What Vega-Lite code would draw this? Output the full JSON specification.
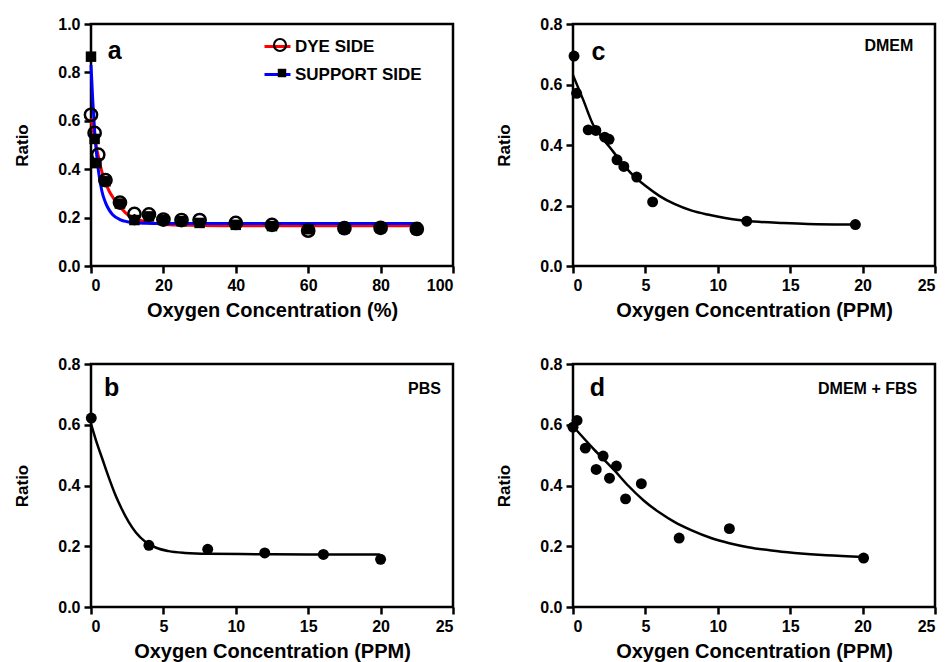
{
  "$schema": "https://vega.github.io/schema/vega-lite/v6.json",
  "autosize": {"type": "pad"},
  "padding": {"left": 12, "top": 14, "right": 0, "bottom": 0},
  "background": "white",
  "bounds": "flush",
  "columns": 2,
  "spacing": {"row": 98, "column": 120},
  "datasets": {
    "aDye": [
      {"x": 0, "y": 0.625, "side": "DYE SIDE"},
      {"x": 1, "y": 0.55, "side": "DYE SIDE"},
      {"x": 2, "y": 0.46, "side": "DYE SIDE"},
      {"x": 4, "y": 0.355, "side": "DYE SIDE"},
      {"x": 8, "y": 0.262, "side": "DYE SIDE"},
      {"x": 12, "y": 0.215, "side": "DYE SIDE"},
      {"x": 16, "y": 0.213, "side": "DYE SIDE"},
      {"x": 20, "y": 0.192, "side": "DYE SIDE"},
      {"x": 25, "y": 0.19, "side": "DYE SIDE"},
      {"x": 30, "y": 0.19, "side": "DYE SIDE"},
      {"x": 40, "y": 0.178, "side": "DYE SIDE"},
      {"x": 50, "y": 0.17, "side": "DYE SIDE"},
      {"x": 60, "y": 0.146, "side": "DYE SIDE"},
      {"x": 70, "y": 0.156, "side": "DYE SIDE"},
      {"x": 80, "y": 0.158, "side": "DYE SIDE"},
      {"x": 90, "y": 0.153, "side": "DYE SIDE"}
    ],
    "aSup": [
      {"x": 0, "y": 0.865, "side": "SUPPORT SIDE"},
      {"x": 1, "y": 0.525, "side": "SUPPORT SIDE"},
      {"x": 1.5, "y": 0.425, "side": "SUPPORT SIDE"},
      {"x": 4, "y": 0.35, "side": "SUPPORT SIDE"},
      {"x": 8, "y": 0.258, "side": "SUPPORT SIDE"},
      {"x": 12, "y": 0.19, "side": "SUPPORT SIDE"},
      {"x": 16, "y": 0.205, "side": "SUPPORT SIDE"},
      {"x": 20, "y": 0.19, "side": "SUPPORT SIDE"},
      {"x": 25, "y": 0.185, "side": "SUPPORT SIDE"},
      {"x": 30, "y": 0.178, "side": "SUPPORT SIDE"},
      {"x": 40, "y": 0.17, "side": "SUPPORT SIDE"},
      {"x": 50, "y": 0.165, "side": "SUPPORT SIDE"},
      {"x": 60, "y": 0.152, "side": "SUPPORT SIDE"},
      {"x": 70, "y": 0.155, "side": "SUPPORT SIDE"},
      {"x": 80, "y": 0.157, "side": "SUPPORT SIDE"},
      {"x": 90, "y": 0.152, "side": "SUPPORT SIDE"}
    ],
    "aFit": [
      {"x": 0, "y": 0.61, "side": "DYE SIDE"},
      {"x": 0.5, "y": 0.57, "side": "DYE SIDE"},
      {"x": 1, "y": 0.53, "side": "DYE SIDE"},
      {"x": 1.5, "y": 0.49, "side": "DYE SIDE"},
      {"x": 2, "y": 0.455, "side": "DYE SIDE"},
      {"x": 3, "y": 0.39, "side": "DYE SIDE"},
      {"x": 4, "y": 0.345, "side": "DYE SIDE"},
      {"x": 5, "y": 0.31, "side": "DYE SIDE"},
      {"x": 6, "y": 0.285, "side": "DYE SIDE"},
      {"x": 7, "y": 0.262, "side": "DYE SIDE"},
      {"x": 8, "y": 0.245, "side": "DYE SIDE"},
      {"x": 10, "y": 0.214, "side": "DYE SIDE"},
      {"x": 12, "y": 0.198, "side": "DYE SIDE"},
      {"x": 15, "y": 0.183, "side": "DYE SIDE"},
      {"x": 20, "y": 0.173, "side": "DYE SIDE"},
      {"x": 25, "y": 0.169, "side": "DYE SIDE"},
      {"x": 30, "y": 0.167, "side": "DYE SIDE"},
      {"x": 40, "y": 0.166, "side": "DYE SIDE"},
      {"x": 60, "y": 0.166, "side": "DYE SIDE"},
      {"x": 91, "y": 0.166, "side": "DYE SIDE"},
      {"x": 0, "y": 0.83, "side": "SUPPORT SIDE"},
      {"x": 0.5, "y": 0.68, "side": "SUPPORT SIDE"},
      {"x": 1, "y": 0.56, "side": "SUPPORT SIDE"},
      {"x": 1.5, "y": 0.47, "side": "SUPPORT SIDE"},
      {"x": 2, "y": 0.4, "side": "SUPPORT SIDE"},
      {"x": 3, "y": 0.31, "side": "SUPPORT SIDE"},
      {"x": 4, "y": 0.262, "side": "SUPPORT SIDE"},
      {"x": 5, "y": 0.232, "side": "SUPPORT SIDE"},
      {"x": 6, "y": 0.212, "side": "SUPPORT SIDE"},
      {"x": 8, "y": 0.192, "side": "SUPPORT SIDE"},
      {"x": 10, "y": 0.183, "side": "SUPPORT SIDE"},
      {"x": 12, "y": 0.179, "side": "SUPPORT SIDE"},
      {"x": 15, "y": 0.177, "side": "SUPPORT SIDE"},
      {"x": 20, "y": 0.176, "side": "SUPPORT SIDE"},
      {"x": 50, "y": 0.176, "side": "SUPPORT SIDE"},
      {"x": 91, "y": 0.176, "side": "SUPPORT SIDE"}
    ],
    "aErr": [{"x": 12, "lo": 0.168, "hi": 0.215}],
    "aTxt": [{"x": 4.6, "y": 0.856, "t": "a"}],
    "cPts": [
      {"x": 0.07, "y": 0.694}, {"x": 0.25, "y": 0.571}, {"x": 1.05, "y": 0.45},
      {"x": 1.58, "y": 0.448}, {"x": 2.19, "y": 0.426}, {"x": 2.49, "y": 0.419},
      {"x": 3.04, "y": 0.351}, {"x": 3.51, "y": 0.329}, {"x": 4.4, "y": 0.294},
      {"x": 5.5, "y": 0.212}, {"x": 12.0, "y": 0.148}, {"x": 19.5, "y": 0.137}
    ],
    "cFit": [
      {"x": 0, "y": 0.631}, {"x": 0.7, "y": 0.55}, {"x": 1.4, "y": 0.466},
      {"x": 2, "y": 0.425}, {"x": 2.76, "y": 0.379}, {"x": 3.4, "y": 0.34},
      {"x": 4.1, "y": 0.302}, {"x": 5, "y": 0.265}, {"x": 5.96, "y": 0.232},
      {"x": 7, "y": 0.205}, {"x": 8.2, "y": 0.183}, {"x": 9.3, "y": 0.17},
      {"x": 10.5, "y": 0.159}, {"x": 12.8, "y": 0.146}, {"x": 14.5, "y": 0.142},
      {"x": 16.2, "y": 0.139}, {"x": 19.6, "y": 0.137}
    ],
    "cTxt": [
      {"x": 1.28, "y": 0.682, "t": "c", "k": "letter"},
      {"x": 23.5, "y": 0.71, "t": "DMEM", "k": "label"}
    ],
    "bPts": [
      {"x": 0.02, "y": 0.622}, {"x": 4.0, "y": 0.203}, {"x": 8.06, "y": 0.19},
      {"x": 12.0, "y": 0.178}, {"x": 16.05, "y": 0.173}, {"x": 20.0, "y": 0.157}
    ],
    "bFit": [
      {"x": 0, "y": 0.603}, {"x": 0.4, "y": 0.54}, {"x": 0.78, "y": 0.488},
      {"x": 1.2, "y": 0.43}, {"x": 1.7, "y": 0.367}, {"x": 2.1, "y": 0.325},
      {"x": 2.6, "y": 0.28}, {"x": 3.1, "y": 0.245}, {"x": 3.77, "y": 0.214},
      {"x": 4.5, "y": 0.195}, {"x": 5.37, "y": 0.184}, {"x": 6.5, "y": 0.178},
      {"x": 8.1, "y": 0.175}, {"x": 11.4, "y": 0.174}, {"x": 15, "y": 0.173},
      {"x": 19.95, "y": 0.173}
    ],
    "bTxt": [
      {"x": 0.9, "y": 0.694, "t": "b", "k": "letter"},
      {"x": 24.17, "y": 0.702, "t": "PBS", "k": "label"}
    ],
    "dPts": [
      {"x": 0, "y": 0.592}, {"x": 0.28, "y": 0.614}, {"x": 0.85, "y": 0.523},
      {"x": 1.6, "y": 0.453}, {"x": 2.08, "y": 0.497}, {"x": 2.52, "y": 0.424},
      {"x": 3.0, "y": 0.464}, {"x": 3.63, "y": 0.356}, {"x": 4.72, "y": 0.406},
      {"x": 7.33, "y": 0.227}, {"x": 10.8, "y": 0.258}, {"x": 20.07, "y": 0.161}
    ],
    "dFit": [
      {"x": 0, "y": 0.595}, {"x": 1.43, "y": 0.52}, {"x": 2.82, "y": 0.452},
      {"x": 3.8, "y": 0.4}, {"x": 4.9, "y": 0.35}, {"x": 6, "y": 0.31},
      {"x": 7, "y": 0.28}, {"x": 8.2, "y": 0.252}, {"x": 9.53, "y": 0.227},
      {"x": 10.8, "y": 0.21}, {"x": 12.1, "y": 0.197}, {"x": 13.7, "y": 0.186},
      {"x": 15.3, "y": 0.178}, {"x": 17.5, "y": 0.17}, {"x": 20.07, "y": 0.165}
    ],
    "dTxt": [
      {"x": 1.15, "y": 0.694, "t": "d", "k": "letter"},
      {"x": 23.77, "y": 0.702, "t": "DMEM + FBS", "k": "label"}
    ]
  },
  "concat": [
    {
      "width": 362,
      "height": 242,
      "layer": [
        {
          "data": {"name": "aFit"},
          "mark": {"type": "line", "strokeWidth": 3, "interpolate": "monotone"},
          "encoding": {
            "x": {"field": "x", "type": "quantitative", "scale": {"domain": [0, 100], "nice": false},
                  "axis": {"values": [0, 20, 40, 60, 80, 100], "title": "Oxygen Concentration (%)"}},
            "y": {"field": "y", "type": "quantitative", "scale": {"domain": [0, 1], "nice": false},
                  "axis": {"values": [0, 0.2, 0.4, 0.6, 0.8, 1.0], "format": ".1f", "title": "Ratio"}},
            "color": {"field": "side", "type": "nominal",
                      "scale": {"range": ["#ff0000", "#0000ff"]},
                      "legend": {"title": null, "orient": "none", "legendX": 172, "legendY": 8,
                                 "symbolType": "stroke", "symbolSize": 676, "symbolStrokeWidth": 3,
                                 "labelFontSize": 17, "labelFontWeight": "bold", "labelColor": "black",
                                 "labelFont": "Liberation Sans", "labelOffset": 3, "rowPadding": 5, "padding": 0}}
          }
        },
        {
          "data": {"name": "aErr"},
          "mark": {"type": "rule", "color": "black", "strokeWidth": 2},
          "encoding": {
            "x": {"field": "x", "type": "quantitative"},
            "y": {"field": "lo", "type": "quantitative"},
            "y2": {"field": "hi"}
          }
        },
        {
          "data": {"name": "aDye"},
          "mark": {"type": "point", "shape": "circle", "fill": "transparent", "stroke": "black", "strokeWidth": 2.5, "size": 150, "opacity": 1},
          "encoding": {
            "x": {"field": "x", "type": "quantitative"},
            "y": {"field": "y", "type": "quantitative"},
            "shape": {"field": "side", "type": "nominal", "scale": {"range": ["circle"]},
                      "legend": {"title": null, "orient": "none", "legendX": 181, "legendY": 13,
                                 "labelExpr": "''", "symbolSize": 144, "symbolStrokeWidth": 2.2,
                                 "symbolStrokeColor": "black", "symbolFillColor": "transparent",
                                 "padding": 0, "labelFontSize": 16}}
          }
        },
        {
          "data": {"name": "aSup"},
          "mark": {"type": "point", "shape": "square", "filled": true, "size": 110, "opacity": 1},
          "encoding": {
            "x": {"field": "x", "type": "quantitative"},
            "y": {"field": "y", "type": "quantitative"},
            "fill": {"field": "side", "type": "nominal", "scale": {"range": ["black"]},
                     "legend": {"title": null, "orient": "none", "legendX": 183, "legendY": 41,
                                "labelExpr": "''", "symbolType": "square", "symbolSize": 72,
                                "symbolStrokeWidth": 0, "padding": 0, "labelFontSize": 16}}
          }
        },
        {
          "data": {"name": "aTxt"},
          "mark": {"type": "text", "align": "left", "baseline": "alphabetic", "fontSize": 25, "fontWeight": "bold", "color": "black"},
          "encoding": {
            "x": {"field": "x", "type": "quantitative"},
            "y": {"field": "y", "type": "quantitative"},
            "text": {"field": "t"}
          }
        }
      ]
    },
    {
      "width": 362,
      "height": 242,
      "layer": [
        {
          "data": {"name": "cFit"},
          "mark": {"type": "line", "strokeWidth": 2.5, "color": "black", "interpolate": "monotone"},
          "encoding": {
            "x": {"field": "x", "type": "quantitative", "scale": {"domain": [0, 25], "nice": false},
                  "axis": {"values": [0, 5, 10, 15, 20, 25], "title": "Oxygen Concentration (PPM)"}},
            "y": {"field": "y", "type": "quantitative", "scale": {"domain": [0, 0.8], "nice": false},
                  "axis": {"values": [0, 0.2, 0.4, 0.6, 0.8], "format": ".1f", "title": "Ratio"}}
          }
        },
        {
          "data": {"name": "cPts"},
          "mark": {"type": "circle", "color": "black", "size": 120, "opacity": 1},
          "encoding": {
            "x": {"field": "x", "type": "quantitative"},
            "y": {"field": "y", "type": "quantitative"}
          }
        },
        {
          "data": {"name": "cTxt"},
          "transform": [{"filter": "datum.k == 'letter'"}],
          "mark": {"type": "text", "align": "left", "baseline": "alphabetic", "fontSize": 25, "fontWeight": "bold", "color": "black"},
          "encoding": {
            "x": {"field": "x", "type": "quantitative"},
            "y": {"field": "y", "type": "quantitative"},
            "text": {"field": "t"}
          }
        },
        {
          "data": {"name": "cTxt"},
          "transform": [{"filter": "datum.k == 'label'"}],
          "mark": {"type": "text", "align": "right", "baseline": "alphabetic", "fontSize": 16, "fontWeight": "bold", "color": "black"},
          "encoding": {
            "x": {"field": "x", "type": "quantitative"},
            "y": {"field": "y", "type": "quantitative"},
            "text": {"field": "t"}
          }
        }
      ]
    },
    {
      "width": 362,
      "height": 243,
      "layer": [
        {
          "data": {"name": "bFit"},
          "mark": {"type": "line", "strokeWidth": 2.5, "color": "black", "interpolate": "monotone"},
          "encoding": {
            "x": {"field": "x", "type": "quantitative", "scale": {"domain": [0, 25], "nice": false},
                  "axis": {"values": [0, 5, 10, 15, 20, 25], "title": "Oxygen Concentration (PPM)"}},
            "y": {"field": "y", "type": "quantitative", "scale": {"domain": [0, 0.8], "nice": false},
                  "axis": {"values": [0, 0.2, 0.4, 0.6, 0.8], "format": ".1f", "title": "Ratio"}}
          }
        },
        {
          "data": {"name": "bPts"},
          "mark": {"type": "circle", "color": "black", "size": 120, "opacity": 1},
          "encoding": {
            "x": {"field": "x", "type": "quantitative"},
            "y": {"field": "y", "type": "quantitative"}
          }
        },
        {
          "data": {"name": "bTxt"},
          "transform": [{"filter": "datum.k == 'letter'"}],
          "mark": {"type": "text", "align": "left", "baseline": "alphabetic", "fontSize": 25, "fontWeight": "bold", "color": "black"},
          "encoding": {
            "x": {"field": "x", "type": "quantitative"},
            "y": {"field": "y", "type": "quantitative"},
            "text": {"field": "t"}
          }
        },
        {
          "data": {"name": "bTxt"},
          "transform": [{"filter": "datum.k == 'label'"}],
          "mark": {"type": "text", "align": "right", "baseline": "alphabetic", "fontSize": 16, "fontWeight": "bold", "color": "black"},
          "encoding": {
            "x": {"field": "x", "type": "quantitative"},
            "y": {"field": "y", "type": "quantitative"},
            "text": {"field": "t"}
          }
        }
      ]
    },
    {
      "width": 362,
      "height": 243,
      "layer": [
        {
          "data": {"name": "dFit"},
          "mark": {"type": "line", "strokeWidth": 2.5, "color": "black", "interpolate": "monotone"},
          "encoding": {
            "x": {"field": "x", "type": "quantitative", "scale": {"domain": [0, 25], "nice": false},
                  "axis": {"values": [0, 5, 10, 15, 20, 25], "title": "Oxygen Concentration (PPM)"}},
            "y": {"field": "y", "type": "quantitative", "scale": {"domain": [0, 0.8], "nice": false},
                  "axis": {"values": [0, 0.2, 0.4, 0.6, 0.8], "format": ".1f", "title": "Ratio"}}
          }
        },
        {
          "data": {"name": "dPts"},
          "mark": {"type": "circle", "color": "black", "size": 120, "opacity": 1},
          "encoding": {
            "x": {"field": "x", "type": "quantitative"},
            "y": {"field": "y", "type": "quantitative"}
          }
        },
        {
          "data": {"name": "dTxt"},
          "transform": [{"filter": "datum.k == 'letter'"}],
          "mark": {"type": "text", "align": "left", "baseline": "alphabetic", "fontSize": 25, "fontWeight": "bold", "color": "black"},
          "encoding": {
            "x": {"field": "x", "type": "quantitative"},
            "y": {"field": "y", "type": "quantitative"},
            "text": {"field": "t"}
          }
        },
        {
          "data": {"name": "dTxt"},
          "transform": [{"filter": "datum.k == 'label'"}],
          "mark": {"type": "text", "align": "right", "baseline": "alphabetic", "fontSize": 16, "fontWeight": "bold", "color": "black"},
          "encoding": {
            "x": {"field": "x", "type": "quantitative"},
            "y": {"field": "y", "type": "quantitative"},
            "text": {"field": "t"}
          }
        }
      ]
    }
  ],
  "resolve": {"scale": {"color": "independent", "shape": "independent", "fill": "independent"}},
  "config": {
    "font": "Liberation Sans",
    "view": {"stroke": "black", "strokeWidth": 2.5},
    "axis": {
      "domain": false,
      "grid": false,
      "ticks": true,
      "tickColor": "black",
      "tickWidth": 2.5,
      "tickSize": 7,
      "labelFont": "Liberation Sans",
      "labelFontSize": 16,
      "labelFontWeight": "bold",
      "labelColor": "black",
      "labelPadding": 4,
      "titleFont": "Liberation Sans",
      "titleFontWeight": "bold",
      "titleColor": "black"
    },
    "axisX": {"titleFontSize": 20, "titlePadding": 7},
    "axisY": {"titleFontSize": 17, "titlePadding": 26}
  }
}
